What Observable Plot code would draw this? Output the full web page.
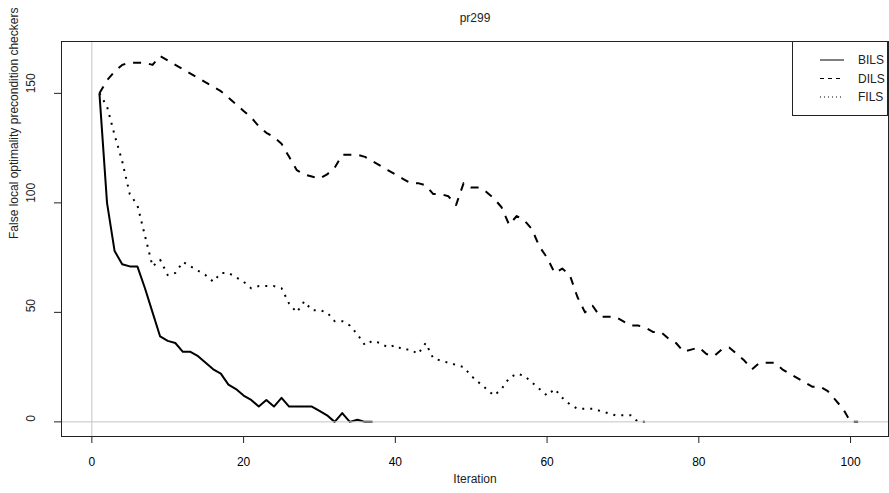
<!DOCTYPE html>
<html>
<head>
<meta charset="utf-8">
<script src="https://cdn.jsdelivr.net/npm/d3@7"></script>
<script src="https://cdn.jsdelivr.net/npm/@observablehq/plot@0.6"></script>
<style>
  html, body { margin: 0; padding: 0; background: white; }
</style>
</head>
<body>
<div id="chart"></div>
<script>
// ---- data ----
const titleText = "pr299";
const xLabel = "Iteration";
const yLabel = "False local optimality precondition checkers";
const seriesNames = ["BILS", "DILS", "FILS"];
const xTicks = [0, 20, 40, 60, 80, 100];
const yTicks = [0, 50, 100, 150];

const bils = [150, 100, 78, 72, 71, 71, 61, 50, 39, 37, 36, 32, 32, 30, 27, 24, 22, 17, 15, 12,
  10, 7, 10, 7, 11, 7, 7, 7, 7, 5, 3, 0, 4, 0, 1, 0, 0];

const dils = [150, 156, 160, 163, 164, 164, 164, 163, 167, 165, 163, 161, 159, 157, 155, 153, 151, 148, 145, 142,
  139, 135, 132, 130, 127, 121, 115, 113, 112, 111, 113, 116, 122, 122, 122, 121, 119, 117, 115, 113,
  111, 109, 109, 108, 104, 104, 103, 99, 109, 107, 107, 105, 102, 98, 90, 94, 92, 88, 80, 75,
  68, 70, 67, 57, 50, 53, 48, 48, 48, 46, 44, 44, 43, 41, 41, 38, 36, 32, 33, 34,
  31, 30, 33, 34, 31, 28, 24, 27, 27, 27, 24, 22, 20, 18, 16, 16, 14, 10, 6, 0, 0];

const fils = [150, 144, 131, 119, 104, 99, 85, 71, 74, 67, 68, 73, 71, 69, 67, 64, 68, 68, 66, 64,
  61, 62, 62, 62, 61, 54, 50, 55, 51, 51, 50, 46, 46, 44, 40, 35, 37, 36, 34, 35,
  33, 33, 31, 36, 29, 28, 27, 26, 25, 21, 18, 15, 12, 15, 20, 22, 21, 18, 15, 12,
  15, 11, 8, 6, 6, 6, 5, 4, 3, 3, 3, 0, 0];

const seriesValues = [bils, dils, fils];
const plotDash = ["none", "8,8", "2,6"];
const legendDash = ["none", "4,4", "1,3"];

(function () {
  // ---- build table ----
  const rows = [];
  seriesValues.forEach((vals, s) => vals.forEach((v, k) => rows.push({series: seriesNames[s], iter: k + 1, value: v})));

  const W = 889, H = 493;
  const mL = 61, mR = 1, mT = 41, mB = 57;
  const font = "'Liberation Sans', Arial, Helvetica, sans-serif";

  const lineMarks = seriesNames.map((name, s) =>
    Plot.line(rows.filter(d => d.series === name), {
      x: "iter", y: "value", stroke: "black", strokeWidth: 2,
      strokeDasharray: plotDash[s], strokeLinecap: "butt", strokeLinejoin: "round"
    })
  );

  const chart = Plot.plot({
    width: W, height: H,
    marginLeft: mL, marginRight: mR, marginTop: mT, marginBottom: mB,
    style: {fontFamily: font, fontSize: "12px", background: "white", color: "black"},
    x: {domain: [-4, 105]},
    y: {domain: [-6.68, 173.68]},
    marks: [
      Plot.ruleX([0], {stroke: "#c4c4c4", strokeWidth: 1}),
      ...lineMarks,
      Plot.ruleY([0], {stroke: "#c4c4c4", strokeWidth: 1}),
      Plot.frame({stroke: "#222", strokeWidth: 1}),
      Plot.axisX({ticks: xTicks, tickSize: 7, tickPadding: 14, label: null, fontSize: 12, stroke: "#222"}),
      Plot.axisY({ticks: yTicks, tickSize: 7, tickFormat: () => "", label: null, stroke: "#222"}),
      Plot.text(yTicks, {y: d => d, text: d => String(d), frameAnchor: "left", dx: -30, rotate: -90, fontSize: 12, fill: "#222"}),
      Plot.text([xLabel], {frameAnchor: "bottom", dy: 46, fontSize: 12, fill: "#222"}),
      Plot.text([yLabel], {frameAnchor: "left", dx: -47, rotate: -90, fontSize: 12, fill: "#222"}),
      Plot.text([titleText], {frameAnchor: "top", dy: -28, fontSize: 12, fill: "#222"})
    ]
  });

  // ---- legend (layout only) ----
  const svg = d3.select(chart);
  const boxRight = W - mR, boxW = 96, boxH = 74;
  const boxLeft = boxRight - boxW, boxTop = mT;
  const g = svg.append("g").attr("font-family", font).attr("font-size", 12).attr("text-anchor", "start");
  g.append("rect").attr("x", boxLeft + 0.5).attr("y", boxTop + 0.5).attr("width", boxW - 1).attr("height", boxH)
    .attr("fill", "white").attr("stroke", "#222");
  seriesNames.forEach((name, s) => {
    const yy = boxTop + 19 + s * 18.5;
    g.append("line").attr("x1", boxLeft + 28).attr("x2", boxLeft + 52).attr("y1", yy).attr("y2", yy)
      .attr("stroke", "black").attr("stroke-width", 1)
      .attr("stroke-dasharray", legendDash[s]);
    g.append("text").attr("x", boxLeft + 66).attr("y", yy).attr("dy", "0.35em")
      .attr("text-anchor", "start").attr("fill", "#222").text(name);
  });

  document.getElementById("chart").appendChild(chart);
})();
</script>
</body>
</html>
